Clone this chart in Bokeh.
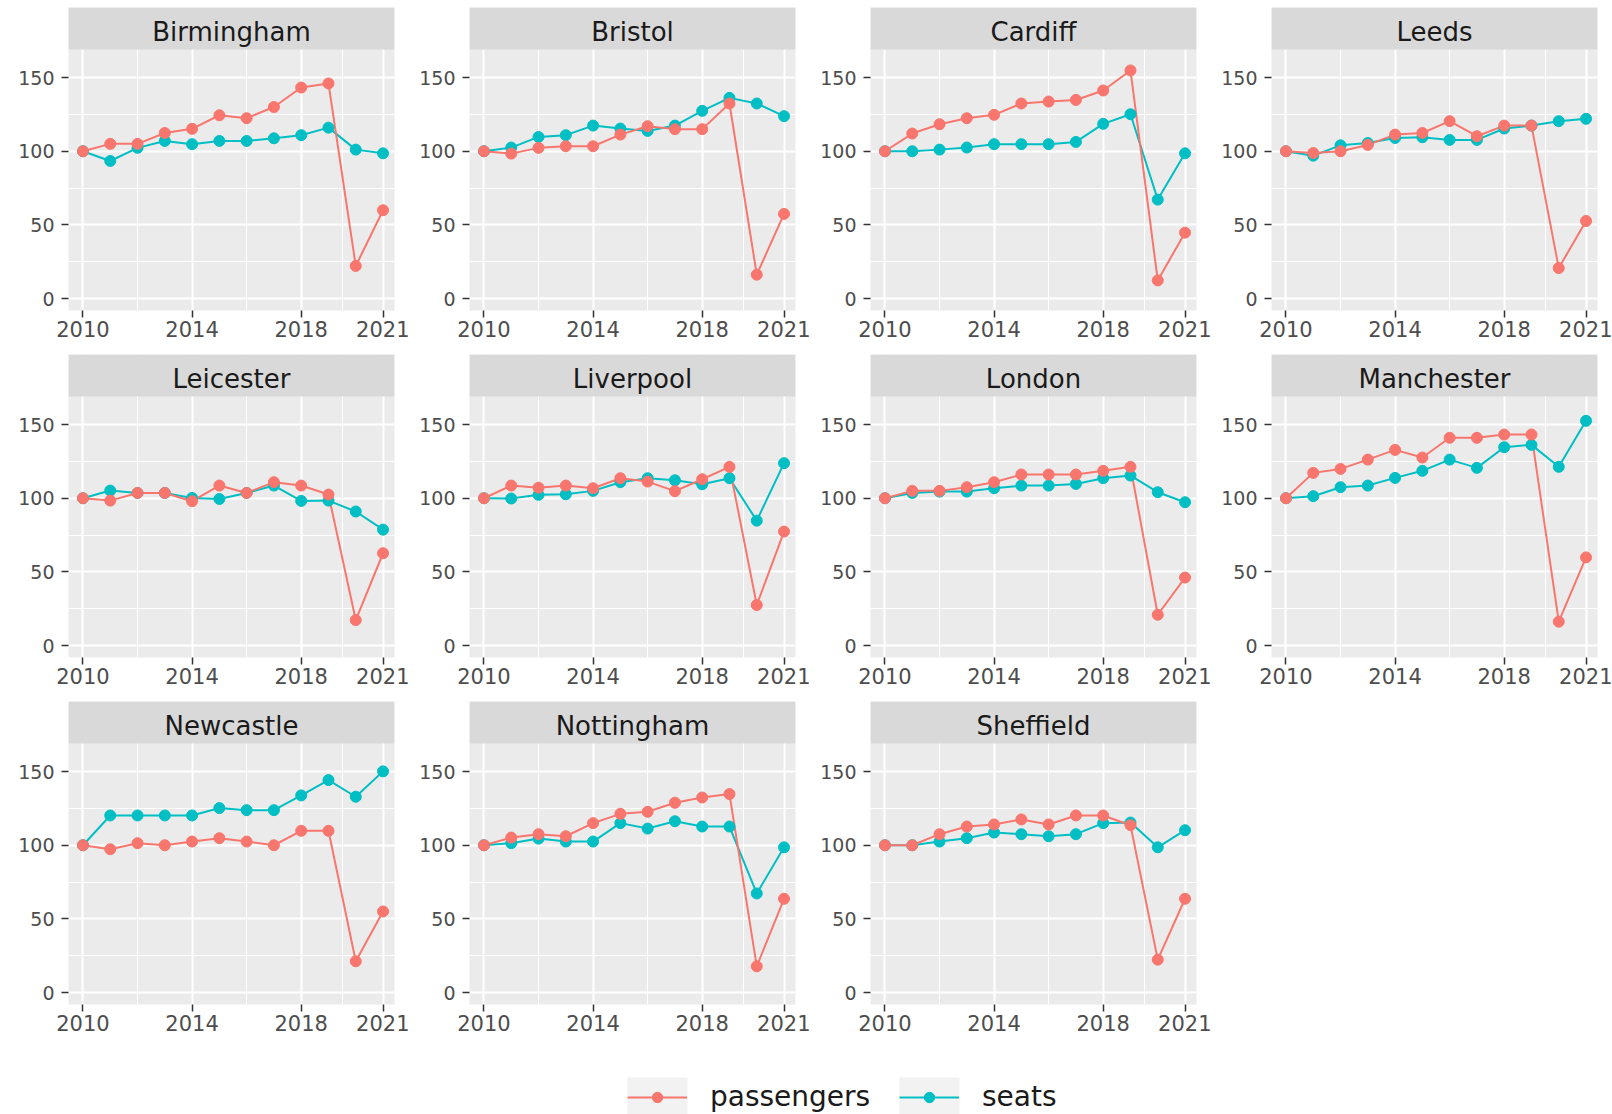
from bokeh.plotting import figure
from bokeh.layouts import column, row
from bokeh.models import (FixedTicker, BoxAnnotation, Label, Legend, LegendItem,
                          Spacer, Range1d)
from bokeh.embed import file_html
from bokeh.resources import INLINE

# ---------------------------------------------------------------- data
years = list(range(2010, 2022))

cities = ["Birmingham", "Bristol", "Cardiff", "Leeds", "Leicester", "Liverpool",
          "London", "Manchester", "Newcastle", "Nottingham", "Sheffield"]

birmingham_passengers = [100, 105, 105, 112.4, 115.2, 124.4, 122.4, 130, 143.2, 146, 22.2, 60]
birmingham_seats = [100, 93.4, 102.3, 107, 104.8, 107, 107, 108.8, 110.9, 116, 101.1, 98.6]

bristol_passengers = [100, 98.4, 102.3, 103.4, 103.4, 111.3, 117, 115, 115, 132.4, 16.3, 57.5]
bristol_seats = [100, 102.5, 109.7, 110.9, 117.4, 115.4, 113.8, 117.4, 127.4, 136.2, 132.4, 123.8]

cardiff_passengers = [100, 112, 118.3, 122.4, 124.7, 132.4, 133.7, 134.8, 141.2, 154.8, 12.4, 44.8]
cardiff_seats = [100, 100, 101.1, 102.5, 104.8, 104.8, 104.8, 106.3, 118.6, 125.1, 67.2, 98.6]

leeds_passengers = [100, 98.8, 100, 104.3, 111.3, 112.4, 120.4, 110.2, 117.4, 117.4, 20.8, 52.7]
leeds_seats = [100, 97, 104, 105.6, 109, 109.5, 107.7, 107.7, 115.4, 117.4, 120.4, 122]

leicester_passengers = [100, 98.4, 103.6, 103.6, 98, 108.6, 103.6, 110.9, 108.6, 102.5, 17.4, 62.7]
leicester_seats = [100, 105.2, 103.6, 103.6, 100.2, 99.5, 103.6, 108.6, 98.2, 98.4, 91, 78.7]

liverpool_passengers = [100, 108.6, 107.2, 108.6, 106.8, 113.6, 111.3, 104.8, 112.9, 121.3, 27.6, 77.4]
liverpool_seats = [100, 99.8, 102.3, 102.7, 105, 110.9, 113.6, 112.2, 109.5, 113.6, 84.8, 123.8]

london_passengers = [100, 105, 105, 107.5, 110.9, 116.1, 116.1, 116.1, 118.6, 121.3, 21, 46.2]
london_seats = [100, 103.6, 104.5, 104.5, 106.8, 108.6, 108.6, 109.7, 113.6, 115.4, 104.1, 97.3]

manchester_passengers = [100, 117.2, 119.9, 126.2, 132.8, 127.6, 141, 141, 143.2, 143.2, 16.3, 59.9]
manchester_seats = [100, 101.4, 107.5, 108.6, 113.8, 118.6, 126.2, 120.6, 134.6, 136.2, 121.3, 152.5]

newcastle_passengers = [100, 97.3, 101.4, 100, 102.5, 104.8, 102.5, 100, 109.8, 109.8, 21.3, 55.1]
newcastle_seats = [100, 120.2, 120.2, 120.2, 120.2, 125.2, 123.8, 123.8, 133.8, 144.2, 132.9, 150.1]

nottingham_passengers = [100, 105.2, 107.5, 106.1, 115, 121.3, 122.7, 128.8, 132.4, 134.7, 17.9, 63.7]
nottingham_seats = [100, 101.4, 104.5, 102.5, 102.5, 115, 111.3, 116.3, 112.7, 112.7, 67.3, 98.6]

sheffield_passengers = [100, 100, 107.5, 112.7, 114.1, 117.5, 114.1, 120.2, 120.2, 113.6, 22.4, 63.7]
sheffield_seats = [100, 100, 102.5, 104.8, 108.6, 107.5, 106.1, 107.5, 115, 115.4, 98.6, 110.2]

x_ticks = [2010, 2014, 2018, 2021]
x_minor = [2012, 2016, 2019.5]
y_ticks = [0, 50, 100, 150]
y_minor = [25, 75, 125]

series = {
    "Birmingham": (birmingham_passengers, birmingham_seats),
    "Bristol": (bristol_passengers, bristol_seats),
    "Cardiff": (cardiff_passengers, cardiff_seats),
    "Leeds": (leeds_passengers, leeds_seats),
    "Leicester": (leicester_passengers, leicester_seats),
    "Liverpool": (liverpool_passengers, liverpool_seats),
    "London": (london_passengers, london_seats),
    "Manchester": (manchester_passengers, manchester_seats),
    "Newcastle": (newcastle_passengers, newcastle_seats),
    "Nottingham": (nottingham_passengers, nottingham_seats),
    "Sheffield": (sheffield_passengers, sheffield_seats),
}

# ---------------------------------------------------------------- style
PAS_COLOR = "#F8766D"
SEA_COLOR = "#00BFC4"
FONT = "DejaVu Sans"
DOT = 11

X_LO, X_HI = 2009.47, 2021.42
Y_LO, Y_HI = -8.0, 169.0
FRAME_H = 303
STRIP_PX = 42
PANEL_PX = FRAME_H - STRIP_PX
UNITS_PER_PX = (Y_HI - Y_LO) / PANEL_PX
Y_TOP = Y_HI + STRIP_PX * UNITS_PER_PX


def make_panel(name, pas, sea):
    p = figure(width=401, height=347, title=None,
               x_range=Range1d(X_LO, X_HI), y_range=Range1d(Y_LO, Y_TOP),
               output_backend="svg", toolbar_location=None,
               min_border_left=60, min_border_right=15,
               min_border_top=7, min_border_bottom=37)
    p.background_fill_color = "#EBEBEB"
    p.border_fill_color = "white"
    p.outline_line_color = None

    p.xaxis.ticker = FixedTicker(ticks=x_ticks, minor_ticks=x_minor)
    p.yaxis.ticker = FixedTicker(ticks=y_ticks, minor_ticks=y_minor)
    for ax in (p.xaxis, p.yaxis):
        ax.axis_line_color = None
        ax.major_tick_line_color = "#333333"
        ax.major_tick_line_width = 1.5
        ax.major_tick_in = 0
        ax.major_tick_out = 7
        ax.minor_tick_line_color = None
        ax.major_label_text_font = FONT
        ax.major_label_text_color = "#4D4D4D"
    p.xaxis.major_label_text_font_size = "21px"
    p.xaxis.major_label_standoff = 3
    p.yaxis.major_label_text_font_size = "19px"
    p.yaxis.major_label_standoff = 7

    for g in (p.xgrid, p.ygrid):
        g.grid_line_color = "white"
        g.grid_line_width = 2
        g.minor_grid_line_color = "white"
        g.minor_grid_line_width = 1

    p.line(years, sea, line_color=SEA_COLOR, line_width=2)
    p.line(years, pas, line_color=PAS_COLOR, line_width=2)
    p.scatter(years, sea, size=DOT, fill_color=SEA_COLOR, line_color=SEA_COLOR)
    p.scatter(years, pas, size=DOT, fill_color=PAS_COLOR, line_color=PAS_COLOR)

    # facet strip
    p.add_layout(BoxAnnotation(bottom=Y_HI, fill_color="#D9D9D9", fill_alpha=1.0,
                               line_color=None))
    p.add_layout(Label(x=(X_LO + X_HI) / 2, y=Y_TOP - 24 * UNITS_PER_PX, text=name,
                       text_align="center", text_baseline="middle",
                       text_font=FONT, text_font_size="26px", text_color="#1A1A1A"))
    return p


panels = [make_panel(c, *series[c]) for c in cities]

# ---------------------------------------------------------------- legend
leg = figure(width=1612, height=73, title=None,
             x_range=Range1d(0, 1612), y_range=Range1d(0, 73),
             x_axis_type=None, y_axis_type=None,
             output_backend="svg", toolbar_location=None,
             min_border=0)
leg.outline_line_color = None
leg.grid.visible = False
leg.background_fill_color = "white"
leg.border_fill_color = "white"

# legend key backgrounds
for left in (627, 899):
    leg.add_layout(BoxAnnotation(left=left, right=left + 60, bottom=0, top=37,
                                 fill_color="#F2F2F2", fill_alpha=1.0, line_color=None,
                                 level="underlay"))

# series renderers for the legend keys (their points fall outside this strip's range)
lp = leg.line(years, birmingham_passengers, line_color=PAS_COLOR, line_width=2)
sp = leg.scatter(years, birmingham_passengers, size=DOT, fill_color=PAS_COLOR,
                 line_color=PAS_COLOR)
ls = leg.line(years, birmingham_seats, line_color=SEA_COLOR, line_width=2)
ss = leg.scatter(years, birmingham_seats, size=DOT, fill_color=SEA_COLOR,
                 line_color=SEA_COLOR)

legend = Legend(items=[LegendItem(label="passengers", renderers=[lp, sp], index=0),
                       LegendItem(label="seats", renderers=[ls, ss], index=0)],
                orientation="horizontal", location=(627, 1),
                glyph_width=60, glyph_height=26, label_height=26, label_standoff=23,
                label_width=189, spacing=0, padding=0, margin=0,
                border_line_color=None, background_fill_alpha=0,
                label_text_font=FONT, label_text_font_size="28px",
                label_text_color="#1A1A1A")
leg.add_layout(legend, "center")

layout = column(
    row(Spacer(width=8, height=347), *panels[0:4]),
    row(Spacer(width=8, height=347), *panels[4:8]),
    row(Spacer(width=8, height=347), *panels[8:11]),
    leg,
)

with open("out.html", "w") as f:
    f.write(file_html(layout, INLINE))
